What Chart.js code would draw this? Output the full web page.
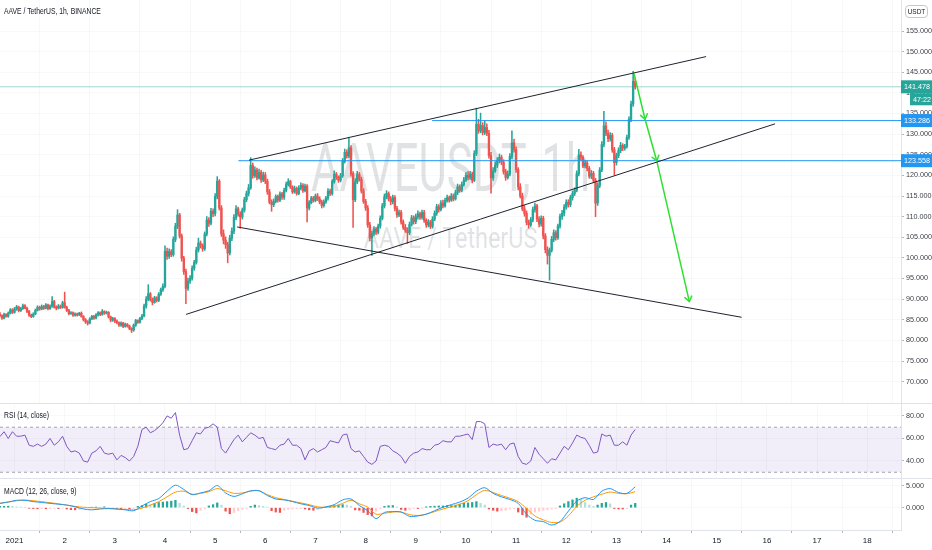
<!DOCTYPE html>
<html><head><meta charset="utf-8">
<script src="https://cdn.jsdelivr.net/npm/chart.js@4.4.1/dist/chart.umd.min.js"></script>
<style>
html,body{margin:0;padding:0;background:#fff;}
#wrap{position:relative;width:932px;height:550px;overflow:hidden;font-family:'Liberation Sans',Arial,sans-serif;}
.pane{position:absolute;left:0;width:932px;}
.wm{position:absolute;left:0;width:901px;text-align:center;color:rgba(120,123,134,0.22);font-family:Roboto,'Liberation Sans',sans-serif;white-space:nowrap;transform-origin:450.5px 0;}
.lbl{position:absolute;left:4px;font-size:8.5px;line-height:10px;color:#131722;white-space:nowrap;transform:scaleX(0.8);transform-origin:0 0;}
.sep{position:absolute;left:0;width:932px;height:1px;background:#e0e3eb;}
#usdt{position:absolute;left:905px;top:5px;width:21px;height:11px;border:1px solid #c5c8d1;border-radius:4px;font-size:6.5px;line-height:11px;text-align:center;color:#131722;}
</style></head>
<body><div id="wrap">
<div class="wm" style="top:136px;font-size:66px;line-height:66px;transform:scaleX(0.66);">AAVEUSDT, 1h</div>
<div class="wm" style="top:223px;font-size:30px;line-height:30px;transform:scaleX(0.78);">AAVE / TetherUS</div>
<div class="pane" style="top:0;height:403px;"><canvas id="cMain"></canvas></div>
<div class="pane" style="top:403px;height:75px;"><canvas id="cRsi"></canvas></div>
<div class="pane" style="top:478px;height:72px;"><canvas id="cMacd"></canvas></div>
<div class="sep" style="top:403px"></div>
<div class="sep" style="top:478px"></div>
<div class="lbl" style="top:6px">AAVE / TetherUS, 1h, BINANCE</div>
<div class="lbl" style="top:410px">RSI (14, close)</div>
<div class="lbl" style="top:486px">MACD (12, 26, close, 9)</div>
<div id="usdt">USDT</div>
</div>
<script>
// ---------- DATA ----------
const startHour = -7;          // first candle: Dec 31, 17:00 (hours from Jan 1 00:00)
const firstOpen = 86.4;
const closes = [
86.0,85.4,86.3,85.8,86.6,87.4,86.8,87.6,
88.1,87.2,87.7,88.4,87.8,87.0,86.1,85.8,86.4,87.3,88.0,87.6,88.2,87.8,88.6,87.7,88.3,89.4,88.1,87.8,88.3,88.0,89.1,88.0,
87.3,86.5,86.7,86.1,86.4,86.2,86.6,85.8,85.0,84.5,84.2,85.2,85.8,85.4,86.2,86.7,86.3,87.0,86.6,86.8,85.7,84.9,85.3,84.7,
84.3,83.7,84.2,83.4,83.9,83.5,82.9,82.5,83.7,84.8,84.4,85.3,85.9,88.3,90.0,91.3,89.8,89.2,90.3,89.7,91.2,92.3,93.1,101.6,
100.4,101.5,100.8,104.5,107.7,110.4,105.3,99.9,96.7,92.6,94.4,95.1,97.5,98.9,101.9,103.6,102.9,102.2,105.8,109.2,108.4,111.3,110.7,114.9,
118.6,112.1,105.8,104.3,103.2,101.2,104.8,106.5,109.8,111.9,110.6,109.9,111.6,114.1,115.6,117.0,122.4,119.9,121.3,119.4,120.7,118.9,120.1,118.6,
116.0,113.5,112.9,113.7,114.9,114.0,115.5,114.7,116.4,117.8,118.5,117.2,116.0,116.8,115.6,116.9,117.6,116.3,117.4,112.1,113.4,114.5,113.9,115.0,
114.3,113.5,112.7,113.6,114.5,116.2,115.6,118.5,120.3,119.5,118.8,119.9,123.4,125.6,124.7,126.7,120.4,114.1,118.4,120.2,119.0,116.2,113.7,112.1,
108.0,104.8,105.9,107.0,106.2,107.7,109.6,112.6,114.8,115.6,114.3,113.6,114.6,112.0,110.4,111.0,108.7,107.4,106.7,106.1,108.1,109.7,108.8,110.0,
110.7,109.8,111.0,109.1,108.0,108.7,107.6,109.4,110.8,112.4,111.7,113.3,112.6,113.9,114.6,114.0,115.0,114.3,115.8,117.2,116.4,117.8,118.9,120.0,
119.5,120.3,118.8,125.3,132.4,130.8,132.1,130.4,131.6,130.2,124.8,119.4,121.1,122.5,123.6,124.4,123.2,120.9,119.5,120.3,124.6,127.9,126.3,121.4,
117.2,115.0,111.9,110.8,108.6,108.0,109.2,111.7,112.6,109.4,108.2,109.6,105.3,102.0,100.6,101.8,104.5,106.1,104.9,107.7,110.0,110.8,112.3,113.5,
112.9,114.6,115.6,116.4,120.4,125.0,124.4,122.3,123.0,121.7,119.8,120.5,118.8,113.3,117.5,121.3,127.5,132.0,130.2,128.9,129.7,126.2,123.1,124.8,
126.0,127.3,126.6,127.0,129.2,133.6,137.3,142.8,141.478];
const highs = [
86.8,86.2,86.6,86.5,86.9,87.7,87.7,88.0,
88.5,88.3,88.0,88.8,88.7,88.1,87.3,86.4,86.7,87.6,88.4,88.3,88.6,88.5,88.9,88.8,88.6,90.6,89.7,88.4,88.7,88.6,89.5,91.7,
88.3,87.5,87.0,86.9,86.7,86.6,86.8,86.9,86.0,85.3,84.8,85.5,86.1,86.1,86.5,87.0,86.9,87.5,87.2,87.1,87.0,85.9,85.6,85.5,
85.0,84.5,84.5,84.4,84.2,84.1,83.7,83.1,84.0,85.1,85.0,85.6,86.3,88.8,90.6,93.5,91.6,90.3,90.7,90.6,91.6,92.7,93.7,102.9,
102.4,102.2,102.0,105.1,108.4,111.7,110.8,105.8,100.4,97.3,95.1,95.7,98.1,99.4,102.6,104.8,104.1,103.4,106.3,110.0,109.8,112.0,111.9,115.6,
119.7,119.0,112.7,106.8,105.1,103.8,105.5,107.3,110.5,112.7,112.3,111.2,112.1,114.7,116.2,117.8,124.3,123.0,122.1,121.8,121.5,121.2,120.8,120.7,
119.1,116.6,114.1,114.3,115.3,115.2,116.0,115.9,116.9,118.4,119.2,118.8,117.5,117.4,117.2,117.5,118.2,118.0,117.9,117.8,113.9,114.9,114.9,115.5,
115.6,114.8,114.0,114.1,114.9,116.8,116.7,119.0,121.1,120.7,119.9,120.5,124.1,126.4,126.2,129.1,127.2,120.9,119.2,121.0,120.7,119.6,116.8,114.2,
112.7,108.6,106.5,107.6,107.4,108.2,110.2,113.2,115.5,116.3,116.0,114.9,115.2,115.1,112.5,111.6,111.5,109.2,108.1,107.3,108.7,110.3,110.2,110.6,
111.4,111.1,111.6,111.5,109.5,109.3,109.1,110.0,111.4,113.0,112.9,113.9,114.0,114.5,115.2,115.0,115.6,115.5,116.4,117.9,117.7,118.4,119.5,120.7,
120.9,121.0,120.8,126.0,136.3,133.6,135.1,132.8,133.1,132.5,130.9,125.6,121.9,123.3,124.3,125.2,124.9,123.8,121.5,121.1,125.3,130.8,128.8,126.9,
121.9,118.0,115.7,112.7,111.4,109.2,109.8,112.3,113.3,113.0,110.0,110.2,110.1,105.9,102.7,102.4,105.2,106.8,106.6,108.2,110.6,111.5,112.9,114.1,
114.1,115.2,116.2,117.0,121.1,126.3,125.7,124.8,123.7,123.5,122.2,121.2,121.0,119.3,118.2,121.9,128.2,135.5,133.0,131.0,130.4,130.2,126.8,125.4,
126.7,128.0,127.7,127.5,129.8,134.2,138.0,145.2,143.6];
const lows = [
85.7,85.1,85.2,85.6,85.6,86.4,86.5,86.6,
87.3,86.9,87.0,87.5,87.6,86.7,85.8,85.5,85.6,86.2,87.1,87.3,87.4,87.5,87.6,87.4,87.5,88.0,87.8,87.4,87.6,87.7,87.8,87.8,
87.0,86.2,86.3,85.8,85.9,85.9,86.0,85.6,84.7,84.1,83.7,84.0,85.0,85.1,85.2,85.9,86.0,86.1,86.3,86.4,85.4,84.5,84.6,84.3,
84.0,83.4,83.4,83.1,83.2,83.2,82.6,81.9,82.2,83.4,84.1,84.2,85.0,85.7,87.8,89.6,89.5,88.6,89.0,89.3,89.4,90.9,91.9,92.7,
99.6,99.9,100.3,100.4,103.9,107.1,104.8,99.2,96.0,88.9,92.1,93.8,94.6,97.0,98.5,101.4,102.4,101.6,101.8,105.3,107.6,108.0,110.0,110.2,
114.3,111.6,105.2,103.4,102.3,98.8,100.7,104.2,105.9,109.2,110.1,107.2,109.4,111.1,113.6,115.0,116.6,119.3,119.5,118.9,119.1,118.3,118.5,118.0,
115.4,113.1,111.3,112.4,113.3,113.5,113.6,114.2,114.2,116.0,117.4,116.8,115.6,115.7,115.2,115.3,116.5,115.9,116.0,108.7,111.6,113.1,113.5,113.6,
113.9,113.1,112.1,112.3,113.2,114.0,115.1,115.2,118.1,119.0,118.3,118.4,119.5,123.0,124.2,124.3,119.8,107.4,113.6,118.0,118.6,115.7,113.2,111.5,
107.4,104.2,100.6,105.3,105.6,105.8,107.2,109.2,112.1,114.3,113.8,112.9,113.1,111.4,109.8,110.0,108.2,106.9,106.2,103.5,105.6,107.7,108.2,108.3,
109.4,109.3,109.4,108.6,107.4,107.5,107.1,107.2,109.0,110.3,111.1,111.4,112.1,112.3,113.5,113.5,113.7,113.8,114.0,115.3,115.9,116.0,117.4,118.5,
118.9,119.0,118.2,118.5,124.8,130.2,130.3,129.8,129.9,129.6,124.2,115.7,118.8,120.7,121.9,123.0,122.6,120.3,118.8,119.1,119.9,124.0,125.6,120.7,
116.5,114.5,111.4,110.1,108.0,107.2,107.6,108.7,111.1,108.8,107.5,107.7,104.6,101.2,98.5,94.6,101.4,103.9,104.3,104.5,107.2,109.3,110.2,111.8,
112.3,112.4,114.0,115.1,116.0,119.9,123.7,121.9,121.8,121.1,119.3,119.2,118.2,110.0,112.7,117.0,120.9,126.9,129.6,128.2,128.3,125.6,120.1,122.5,
124.3,125.5,126.0,126.1,126.6,128.7,133.0,136.7,140.9];

const rsiStep = 2;
const rsiValues = [
61.6,66,60,66,62,62,63,54,53,55,53,55,
60,54,57,62,53,48,49,47,40,39,47,49,
53,47,46,47,41,45,43,40,44,53,68,70,
65,67,70,74,80,78,83,63,50,51,58,65,
64,69,70,73,70,51,47,53,59,63,57,61,
65,63,60,61,52,51,50,54,55,60,54,54,
51,41,49,51,48,50,52,58,57,56,63,64,
51,48,49,44,39,37,40,53,54,53,49,47,
44,38,44,47,48,51,50,50,54,55,58,57,
57,62,62,63,64,59,75,75,73,52,55,54,
55,50,55,56,44,38,37,40,52,46,42,38,
42,41,47,53,50,56,63,61,60,54,47,48,
64,62,63,54,54,57,54,63,68];
const rsiBands = [70, 30];
const rsiTicks = [40, 60, 80];

const macdStep = 4;
const macdLine = [
1.0,1.3,1.7,1.7,1.4,1.2, 1.0,0.8,0.6,0.2,-0.3,-0.5, -0.3,-0.2,-0.3,-0.5,-0.7,0.4,
1.4,2.1,3.8,5.2,4.2,3.0, 3.4,3.9,5.1,3.4,2.6,3.2, 3.9,3.9,2.8,2.0,1.8,1.4,
0.9,0.5,-0.1,0.2,0.7,1.8, 2.0,0.5,-0.7,-2.5,-1.1,-0.9, -1.0,-2.0,-1.9,-1.5,-0.7,0.1,
0.7,1.3,2.2,3.8,4.6,3.3, 2.5,1.9,1.0,-1.5,-2.9,-3.2, -4.0,-3.2,-0.8,1.5,2.3,1.9,
3.8,4.4,3.5,3.3,4.8];
const signalLine = [
1.0,1.3,1.6,1.75,1.6,1.4, 1.15,0.9,0.6,0.3,0.1,0.0, -0.1,-0.2,-0.3,-0.4,-0.5,-0.1,
0.6,1.4,2.5,3.6,3.8,3.1, 3.3,3.7,4.4,3.9,3.3,3.4, 3.8,3.9,3.0,2.3,1.9,1.5,
1.1,0.7,0.2,0.1,0.3,1.0, 1.7,0.9,0.1,-1.5,-1.3,-1.0, -1.0,-1.6,-1.8,-1.5,-0.9,-0.3,
0.2,0.8,1.6,3.0,4.0,3.5, 2.8,2.2,1.4,-0.2,-1.9,-2.8, -3.4,-3.3,-1.9,0.3,1.7,2.5,
3.1,3.6,3.3,3.2,3.7];
const histStep = 2;
const histValues = [
0.3,0.3,0.35,0.3,0.2,0.15,0.1,-0.15,-0.2,-0.25,-0.2,-0.25,
-0.2,-0.15,-0.2,-0.1,-0.3,-0.45,-0.5,-0.4,-0.25,-0.1,0.1,0.15,
0.1,0.2,-0.1,-0.15,-0.2,-0.25,-0.2,-0.3,-0.2,0.3,0.5,0.8,
0.7,1.0,1.2,1.3,1.4,1.5,1.7,1.0,0.4,-0.2,-0.9,-1.2,
-0.6,-0.2,0.4,0.7,1.1,0.6,-0.8,-1.4,-1.1,-0.7,-0.4,-0.2,
0.3,0.6,0.5,0.3,0.15,-0.7,-1.0,-1.1,-0.6,-0.4,-0.3,-0.25,
-0.2,-0.3,-0.5,-0.6,-0.4,-0.2,0.1,0.3,0.5,0.6,0.7,0.6,
0.3,-0.5,-0.6,-1.1,-1.6,-1.9,-0.8,-0.3,0.3,0.45,0.5,0.2,
-0.4,-0.6,-0.5,-0.2,-0.2,-0.1,0.2,0.3,0.35,0.4,0.4,0.5,
0.5,0.6,0.8,1.0,1.1,1.2,1.4,1.0,0.6,-0.3,-0.6,-0.8,
-0.7,-0.6,-0.3,-0.2,-1.0,-1.6,-2.2,-1.5,-1.0,-0.8,-0.6,-0.5,
-0.3,-0.2,0.4,0.9,1.4,1.8,2.2,2.0,1.2,0.6,0.3,0.6,
1.0,1.2,0.9,-0.2,-0.3,-0.3,-0.2,0.6,1.0];
const macdTicks = [0, 5];

const dayLabels = ['2021','2','3','4','5','6','7','8','9','10','11','12','13','14','15','16','17','18'];
const priceTicks = [70,75,80,85,90,95,100,105,110,115,120,125,130,135,140,145,150,155];

// drawings (hour, price)
const trendUpper = [[112.2,123.7],[330.9,148.8]];
const trendLower = [[82.1,86.3],[363.9,132.5]];
const trendDown  = [[106.5,107.5],[347.9,85.6]];
const arrowPath  = [[296.4,144.7],[301.7,133.6],[307.3,123.5],[322.9,89.4]];
const lastPrice = 141.478;
const countdown = '47:22';
const levelPrices = [133.286, 123.558];
const levelStarts = [199.8, 107.1];

// view ranges
const xMin = -6.94, xMax = 424.16;
const priceRange = [64.82, 162.52];
const rsiRange = [24.9, 91.5];
const macdRange = [-5.14, 6.84];

// ---------- STYLE ----------
const FONT = "'Liberation Sans',Arial,sans-serif";
const UP = '#26a69a', DOWN = '#ef5350';
const GRID = 'rgba(42,46,57,0.035)';
const AXIS_TXT = '#3c3f48';
const AXIS_W = 31;
const ARROW = '#2fe02f';
Chart.defaults.font.family = FONT;
Chart.defaults.animation = false;

const candles = closes.map((c, i) => ({
  h: startHour + i,
  o: i === 0 ? firstOpen : closes[i - 1],
  c: c, hi: highs[i], lo: lows[i]
}));
const pt = a => a.map(p => ({x: p[0], y: p[1]}));
const noPad = s => { s.paddingTop = 0; s.paddingBottom = 0; s.paddingLeft = 0; s.paddingRight = 0; };

function xScale(showLabels) {
  return {
    type: 'linear', min: xMin, max: xMax, bounds: 'data', offset: false,
    afterBuildTicks: s => { s.ticks = dayLabels.map((l, i) => ({value: i * 24})); },
    afterFit: s => { s.height = showLabels ? 20 : 0; noPad(s); },
    ticks: {display: showLabels, autoSkip: false, maxRotation: 0, padding: 3,
            color: '#131722', font: {size: 8},
            callback: v => dayLabels[Math.round(v / 24)]},
    grid: {color: GRID, drawTicks: showLabels, tickLength: 3, tickColor: '#b2b5be'},
    border: {display: showLabels, color: '#e0e3eb'}
  };
}
function yScale(range, ticks, digits) {
  return {
    position: 'right', min: range[0], max: range[1], bounds: 'data',
    afterBuildTicks: s => { s.ticks = ticks.map(v => ({value: v})); },
    afterFit: s => { s.width = AXIS_W; noPad(s); },
    ticks: {padding: 2, color: AXIS_TXT, font: {size: 7.2}, callback: v => v.toFixed(digits)},
    grid: {color: GRID, drawTicks: true, tickLength: 3, tickColor: '#b2b5be'},
    border: {display: true, color: '#e0e3eb'}
  };
}
const baseOpts = {
  responsive: true, maintainAspectRatio: false, animation: false, events: [],
  layout: {padding: 0},
  plugins: {legend: {display: false}, tooltip: {enabled: false}, title: {display: false}}
};
const lineDs = (data, color, width, extra) => Object.assign({
  type: 'line', data: data, borderColor: color, borderWidth: width,
  pointRadius: 0, fill: false, tension: 0, order: 0
}, extra || {});

// ---------- MAIN ----------
const tagPlugin = {
  id: 'tags',
  afterDraw(chart) {
    const ctx = chart.ctx, xs = chart.scales.x, ys = chart.scales.y, a = chart.chartArea;
    ctx.save();
    ctx.strokeStyle = ARROW; ctx.lineWidth = 1.5; ctx.lineCap = 'round';
    for (let i = 1; i < arrowPath.length; i++) {
      const x0 = xs.getPixelForValue(arrowPath[i-1][0]), y0 = ys.getPixelForValue(arrowPath[i-1][1]);
      const x1 = xs.getPixelForValue(arrowPath[i][0]), y1 = ys.getPixelForValue(arrowPath[i][1]);
      const ang = Math.atan2(y1 - y0, x1 - x0), L = 6, w = Math.PI / 5;
      ctx.beginPath();
      ctx.moveTo(x1 - L * Math.cos(ang - w), y1 - L * Math.sin(ang - w));
      ctx.lineTo(x1, y1);
      ctx.lineTo(x1 - L * Math.cos(ang + w), y1 - L * Math.sin(ang + w));
      ctx.stroke();
    }
    ctx.font = "7.2px " + FONT; ctx.textBaseline = 'middle';
    const tags = [{v: lastPrice, c: UP}, {v: levelPrices[0], c: '#2196f3'}, {v: levelPrices[1], c: '#2196f3'}];
    tags.forEach(t => {
      const py = ys.getPixelForValue(t.v);
      ctx.fillStyle = t.c; ctx.fillRect(a.right, py - 6.5, AXIS_W, 13);
      ctx.fillStyle = '#fff'; ctx.fillText(t.v.toFixed(3), a.right + 3, py + 0.5);
    });
    const py = ys.getPixelForValue(lastPrice);
    ctx.fillStyle = UP; ctx.fillRect(a.right + 9, py + 6.5, AXIS_W - 9, 12);
    ctx.fillStyle = '#fff'; ctx.fillText(countdown, a.right + 12, py + 12.8);
    ctx.restore();
  }
};

new Chart(document.getElementById('cMain'), {
  type: 'bar',
  data: {datasets: [
    lineDs(pt(trendUpper), '#1e222d', 1),
    lineDs(pt(trendLower), '#1e222d', 1),
    lineDs(pt(trendDown), '#1e222d', 1),
    lineDs(pt(arrowPath), ARROW, 1.5),
    lineDs([{x: xMin, y: lastPrice}, {x: xMax, y: lastPrice}], 'rgba(38,166,154,0.45)', 1, {order: 4}),
    lineDs([{x: levelStarts[0], y: levelPrices[0]}, {x: xMax, y: levelPrices[0]}], '#2196f3', 1, {order: 1}),
    lineDs([{x: levelStarts[1], y: levelPrices[1]}, {x: xMax, y: levelPrices[1]}], '#2196f3', 1, {order: 1}),
    {type: 'bar', grouped: false, order: 3, barThickness: 0.9,
     data: candles.map(k => ({x: k.h, y: [k.lo, k.hi]})),
     backgroundColor: candles.map(k => k.c >= k.o ? UP : DOWN)},
    {type: 'bar', grouped: false, order: 2, barThickness: 1.7,
     data: candles.map(k => ({x: k.h, y: [k.o, k.c]})),
     backgroundColor: candles.map(k => k.c >= k.o ? UP : DOWN)}
  ]},
  options: Object.assign({}, baseOpts, {
    scales: {x: xScale(false), y: yScale(priceRange, priceTicks, 3)}
  }),
  plugins: [tagPlugin]
});

// ---------- RSI ----------
new Chart(document.getElementById('cRsi'), {
  type: 'line',
  data: {datasets: [
    lineDs([{x: xMin, y: rsiBands[0]}, {x: xMax, y: rsiBands[0]}], '#a3a6af', 1,
           {borderDash: [3, 3], fill: '+1', backgroundColor: 'rgba(126,87,194,0.1)', order: 2}),
    lineDs([{x: xMin, y: rsiBands[1]}, {x: xMax, y: rsiBands[1]}], '#a3a6af', 1,
           {borderDash: [3, 3], order: 2}),
    lineDs(rsiValues.map((v, i) => ({x: startHour + i * rsiStep, y: v})), '#7e57c2', 1, {order: 0})
  ]},
  options: Object.assign({}, baseOpts, {
    scales: {x: xScale(false), y: yScale(rsiRange, rsiTicks, 2)}
  })
});

// ---------- MACD ----------
const histColors = histValues.map((v, i) => {
  const p = i > 0 ? histValues[i - 1] : v;
  if (v >= 0) return v >= p ? '#26a69a' : '#b2dfdb';
  return v <= p ? '#ef5350' : '#ffcdd2';
});
new Chart(document.getElementById('cMacd'), {
  type: 'bar',
  data: {datasets: [
    {type: 'bar', order: 3, barThickness: 1.6, grouped: false,
     data: histValues.map((v, i) => ({x: startHour + i * histStep, y: v})),
     backgroundColor: histColors},
    lineDs(macdLine.map((v, i) => ({x: startHour + i * macdStep, y: v})), '#2196f3', 1, {order: 1, tension: 0.3}),
    lineDs(signalLine.map((v, i) => ({x: startHour + i * macdStep, y: v})), '#ff9800', 1, {order: 2, tension: 0.3})
  ]},
  options: Object.assign({}, baseOpts, {
    scales: {x: xScale(true), y: yScale(macdRange, macdTicks, 3)}
  })
});
</script>
</body></html>
